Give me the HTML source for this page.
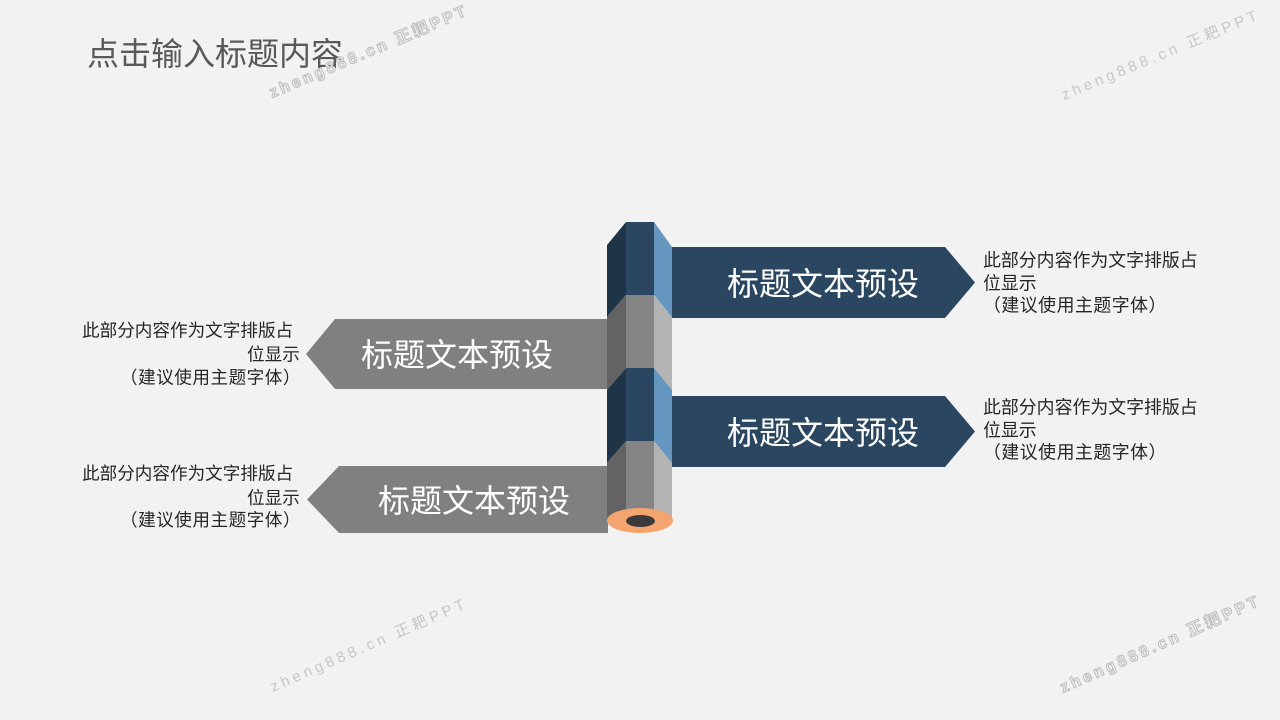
<!DOCTYPE html>
<html>
<head>
<meta charset="utf-8">
<style>
html,body{margin:0;padding:0;background:#f2f2f2;}
body{width:1280px;height:720px;overflow:hidden;}
svg{display:block;}
.cjk{font-family:"Liberation Sans","Noto Sans CJK SC",sans-serif;}
</style>
</head>
<body>
<svg width="1280" height="720" viewBox="0 0 1280 720" xmlns="http://www.w3.org/2000/svg">
  <rect x="0" y="0" width="1280" height="720" fill="#f2f2f2"/>

  <!-- Title -->
  <text x="87" y="65" class="cjk" font-size="32" fill="#595959">点击输入标题内容</text>

  <!-- Watermarks -->
  <g class="cjk">
    <text x="272" y="98" transform="rotate(-23 272 98)" font-size="16" font-weight="bold" letter-spacing="3" fill="#f2f2f2" stroke="#bdbdbd" stroke-width="1">zheng888.cn 正耙PPT</text>
    <text x="1064" y="100" transform="rotate(-22.5 1064 100)" font-size="15" letter-spacing="3.8" fill="#c6c6c6">zheng888.cn 正耙PPT</text>
    <text x="273" y="692" transform="rotate(-23.5 273 692)" font-size="15" letter-spacing="3.8" fill="#c6c6c6">zheng888.cn 正耙PPT</text>
    <text x="1063" y="693" transform="rotate(-24 1063 693)" font-size="16" font-weight="bold" letter-spacing="3.2" fill="#f2f2f2" stroke="#bdbdbd" stroke-width="1">zheng888.cn 正耙PPT</text>
  </g>

  <!-- Left gray arrows -->
  <polygon points="609,319 335,319 306,354 335,389 609,389" fill="#808080"/>
  <polygon points="608,466 339,466 307,499.5 339,533 608,533" fill="#808080"/>

  <!-- Right blue arrows -->
  <polygon points="668,247 945,247 975,282.5 945,318 668,318" fill="#2b4660"/>
  <polygon points="668,396 945,396 975,431.5 945,467 668,467" fill="#2b4660"/>

  <!-- Pencil -->
  <polygon points="607,245 626,222 626,295 607,317" fill="#1f3447"/>
  <polygon points="626,222 654,222 654,295 626,295" fill="#2b4660"/>
  <polygon points="654,222 672,247 672,317 654,295" fill="#6596bf"/>
  <polygon points="607,317 626,295 626,368 607,390" fill="#636363"/>
  <polygon points="626,295 654,295 654,368 626,368" fill="#858585"/>
  <polygon points="654,295 672,317 672,390 654,368" fill="#b4b4b4"/>
  <polygon points="607,390 626,368 626,441 607,463" fill="#1f3447"/>
  <polygon points="626,368 654,368 654,441 626,441" fill="#2b4660"/>
  <polygon points="654,368 672,390 672,463 654,441" fill="#6596bf"/>
  <polygon points="607,463 626,441 626,522 607,522" fill="#636363"/>
  <polygon points="626,441 654,441 654,522 626,522" fill="#858585"/>
  <polygon points="654,441 672,463 672,522 654,522" fill="#b4b4b4"/>
  <ellipse cx="640" cy="520.5" rx="33" ry="12.5" fill="#f4a46e"/>
  <ellipse cx="640.5" cy="521" rx="14.5" ry="6" fill="#3a3a3a"/>

  <!-- Arrow labels -->
  <g class="cjk" font-size="32" fill="#ffffff">
    <text x="361" y="366">标题文本预设</text>
    <text x="378" y="512">标题文本预设</text>
    <text x="727" y="295">标题文本预设</text>
    <text x="727" y="444">标题文本预设</text>
  </g>

  <!-- Description texts -->
  <g class="cjk" font-size="17.6" fill="#262626">
    <text x="82" y="336.5">此部分内容作为文字排版占</text>
    <text x="247" y="360.5">位显示</text>
    <text x="120" y="383.5" letter-spacing="0.5">（建议使用主题字体）</text>

    <text x="82" y="479.5">此部分内容作为文字排版占</text>
    <text x="247" y="504">位显示</text>
    <text x="120" y="526" letter-spacing="0.5">（建议使用主题字体）</text>
  </g>
  <g class="cjk" font-size="17.9" fill="#262626">
    <text x="983" y="266.5">此部分内容作为文字排版占</text>
    <text x="983" y="289.5">位显示</text>
    <text x="983" y="311.5" letter-spacing="0.5">（建议使用主题字体）</text>

    <text x="983" y="413.5">此部分内容作为文字排版占</text>
    <text x="983" y="436.5">位显示</text>
    <text x="983" y="458.5" letter-spacing="0.5">（建议使用主题字体）</text>
  </g>
</svg>
</body>
</html>
